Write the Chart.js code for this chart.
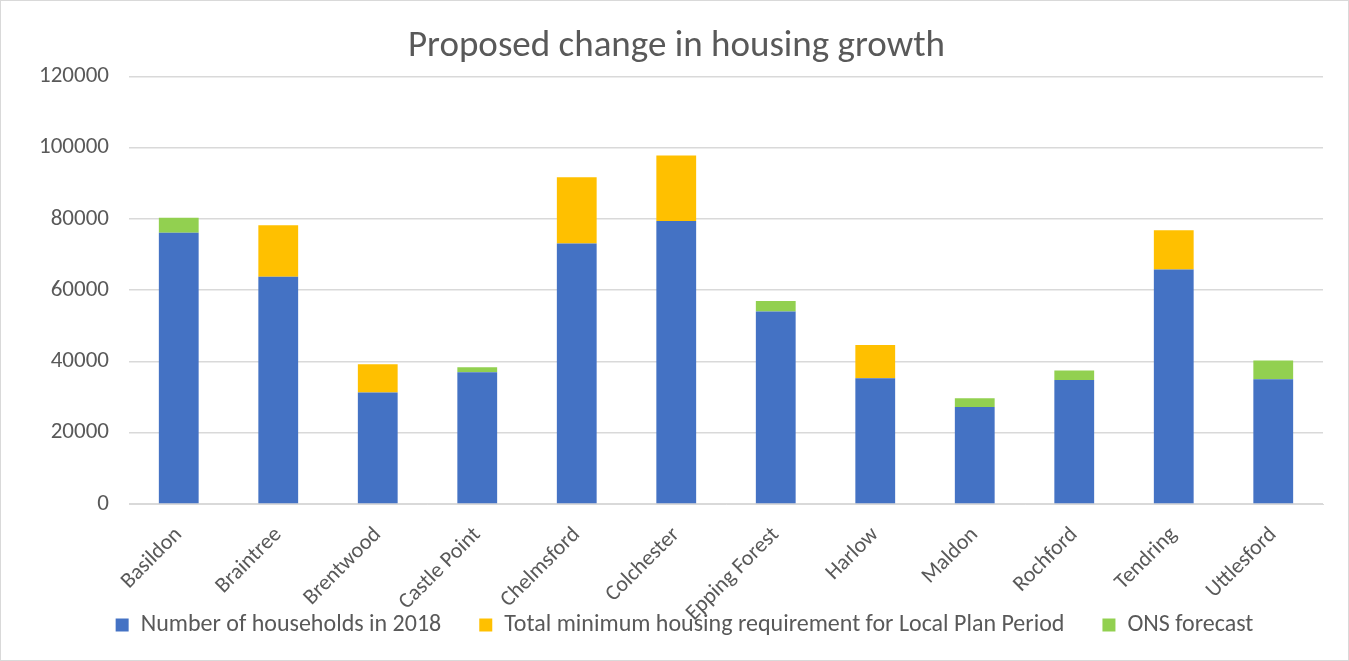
<!DOCTYPE html>
<html>
<head>
<meta charset="utf-8">
<script src="https://cdn.jsdelivr.net/npm/chart.js@4"></script>
<style>
  html, body { margin: 0; padding: 0; background: #fff; }
  #wrap { position: absolute; left: 0; top: 0; width: 1347px; height: 659px; border: 1px solid #d9d9d9; }
  canvas { display: block; }
</style>
</head>
<body>
<div id="wrap"><canvas id="c" width="1347" height="659"></canvas></div>
<script>
const categories = ["Basildon","Braintree","Brentwood","Castle Point","Chelmsford","Colchester","Epping Forest","Harlow","Maldon","Rochford","Tendring","Uttlesford"];
const households2018 = [76100, 63800, 31300, 37000, 73100, 79400, 54000, 35300, 27200, 34800, 65800, 35000];
const localPlanRequirement = [0, 14400, 7900, 0, 18600, 18400, 0, 9300, 0, 0, 11000, 0];
const onsForecast = [4200, 0, 0, 1400, 0, 0, 3000, 0, 2500, 2700, 0, 5300];
const yTicks = [0, 20000, 40000, 60000, 80000, 100000, 120000];

const FONT = "Calibri, Carlito, 'Open Sans', sans-serif";
const TXT = '#595959';

// Excel-like placement: rotated category labels may overflow their axis box,
// the legend sits a little higher, title and legend are centred on the page.
const excelLayout = {
  id: 'excelLayout',
  afterLayout(chart) {
    chart.scales.x.bottom = chart.height;
    const lg = chart.legend;
    lg.top -= 13; lg.bottom -= 13;
    lg.left += 17; lg.right += 17;
    const t = chart.titleBlock;
    if (t) { t.left += 9; t.right += 9; }
  }
};

new Chart(document.getElementById('c'), {
  type: 'bar',
  data: {
    labels: categories,
    datasets: [
      { label: 'Number of households in 2018', data: households2018, backgroundColor: '#4472C4' },
      { label: 'Total minimum housing requirement for Local Plan Period', data: localPlanRequirement, backgroundColor: '#FFC000' },
      { label: 'ONS forecast', data: onsForecast, backgroundColor: '#92D050' }
    ]
  },
  plugins: [excelLayout],
  options: {
    responsive: false,
    animation: false,
    layout: { padding: { left: 11, right: 25, top: 0, bottom: 0 } },
    datasets: { bar: { categoryPercentage: 1.0, barPercentage: 0.4 } },
    plugins: {
      title: {
        display: true,
        text: 'Proposed change in housing growth',
        color: TXT,
        font: { family: FONT, size: 37, weight: 'normal' },
        padding: { top: 24, bottom: 7 }
      },
      legend: {
        position: 'bottom',
        labels: {
          color: TXT,
          font: { family: FONT, size: 24 },
          boxWidth: 13, boxHeight: 13,
          padding: 38
        }
      },
      tooltip: { enabled: false }
    },
    scales: {
      x: {
        stacked: true,
        grid: { display: false },
        border: { color: '#d9d9d9' },
        afterFit: (axis) => { axis.height = 84; },
        ticks: {
          color: TXT,
          font: { family: FONT, size: 22 },
          maxRotation: 45, minRotation: 45,
          autoSkip: false,
          padding: 10
        }
      },
      y: {
        stacked: true,
        min: 0, max: 120000,
        afterBuildTicks: (axis) => { axis.ticks = yTicks.map(v => ({ value: v })); },
        afterFit: (axis) => { axis.width = 117; },
        grid: { color: '#d9d9d9', lineWidth: 1.5, drawTicks: false },
        border: { display: false },
        ticks: {
          color: TXT,
          font: { family: FONT, size: 23 },
          padding: 20,
          callback: (v) => String(v)
        }
      }
    }
  }
});
</script>
</body>
</html>
